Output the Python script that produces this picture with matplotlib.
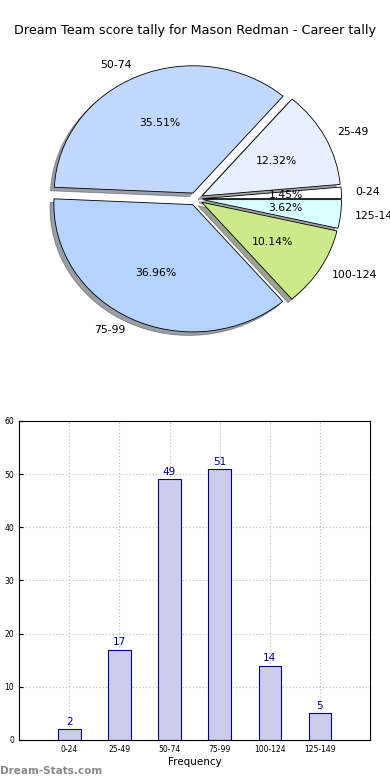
import matplotlib
matplotlib.use("Agg")
import matplotlib.pyplot as plt

ranges = ["0-24", "25-49", "50-74", "75-99", "100-124", "125-149"]
counts = [2, 17, 49, 51, 14, 5]
pie_colors = ["#ffffff", "#e8f0ff", "#c2d8ff", "#b4d4ff", "#ccea8a", "#d8ffff"]

fig = plt.figure(figsize=(3.9, 7.8), dpi=100)
fig.text(0.5, 0.961, "Dream Team score tally for Mason Redman - Career tally",
         ha="center", va="center", fontsize=9.2)

# pie
ax1 = fig.add_axes([0.057, 0.541, 0.89, 0.408])
ax1.pie(counts, labels=ranges, colors=pie_colors, explode=[0.05] * len(counts),
        autopct="%1.2f%%", shadow=True, startangle=0,
        wedgeprops={"edgecolor": "black", "linewidth": 0.6},
        textprops={"fontsize": 7.8})
ax1.set_aspect("auto")
ax1.set_xlim(-1.25, 1.25)
ax1.set_ylim(-1.25, 1.25)

# bars
ax2 = fig.add_axes([0.049, 0.0513, 0.9, 0.409])
x = list(range(len(counts)))
ax2.bar(x, counts, width=0.45, color="#ccccee", edgecolor="#000080", linewidth=0.8, zorder=2)
for xi, c in zip(x, counts):
    ax2.text(xi, c + 0.4, str(c), ha="center", va="bottom", color="#000080", fontsize=7.5, zorder=3)
ax2.set_xlim(-1, 6)
ax2.set_ylim(0, 60)
ax2.set_xticks(x)
ax2.set_xticklabels(ranges)
ax2.set_yticks(range(0, 61, 10))
ax2.tick_params(labelsize=5.5, direction="in", length=3)
ax2.grid(True, linestyle=(0, (1, 2)), color="#bbbbbb", linewidth=0.8, zorder=0)
ax2.set_axisbelow(True)
ax2.set_xlabel("Frequency", fontsize=7.5, labelpad=2)

fig.text(0.0, 0.012, "Dream-Stats.com", color="#888888", fontsize=7.5, fontweight="bold", ha="left", va="center")

fig.savefig("out.png", dpi=100)
